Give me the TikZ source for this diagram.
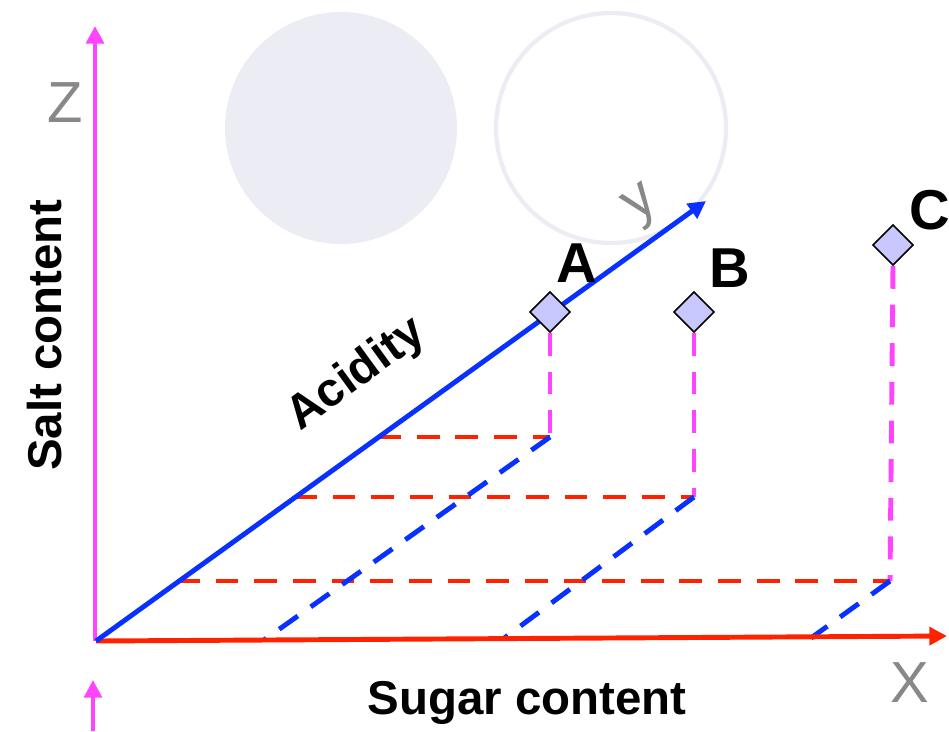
\documentclass[tikz,border=0pt]{standalone}
\usepackage{fontspec}
\setmainfont{Liberation Sans}
\usetikzlibrary{arrows.meta,positioning,shapes.geometric}
\definecolor{fuchsia}{RGB}{255,68,255}
\definecolor{scarlet}{RGB}{255,34,0}
\definecolor{royal}{RGB}{8,48,255}
\definecolor{mist}{RGB}{236,236,244}
\definecolor{slate}{RGB}{136,136,136}
\definecolor{lilac}{RGB}{200,200,255}
\tikzset{
  >={Triangle[length=10pt,width=10pt]},
  axis/.style={->,line width=2.8pt,draw=#1},
  guide/.style={line width=2.8pt,draw=#1,dash pattern=on 13pt off 9pt},
  sample/.style={diamond,draw=black,fill=lilac,line width=0.8pt,
    minimum size=23pt,inner sep=0pt},
  letter/.style={text=slate,font=\fontsize{33}{33}\selectfont},
  tag/.style={font=\fontsize{#1}{#1}\selectfont\bfseries},
  tag/.default=27,
}

\begin{document}
\begin{tikzpicture}[x=0.02cm,y=-0.02cm]
  \useasboundingbox (0,0) rectangle (949,731);
  % discs
  \fill[mist] (341,128) circle (2.32cm);
  \draw[mist,line width=2.4pt] (611,128) circle (2.3cm);

  \coordinate (O) at (96,641);
  \coordinate (xtip) at (947,636);
  \coordinate (ytip) at (706,201);
  \coordinate (ztip) at (95,26);
  \coordinate (zlow) at (93,731);
  \coordinate (zmark) at (93,680);

  \node[sample] (A) at (550,312) {};
  \node[sample] (B) at (694,312) {};
  \node[sample] (C) at (893,245) {};

  \coordinate (fA) at (550,437);
  \coordinate (fB) at (694,497);
  \coordinate (fC) at (890,581);
  \coordinate (yA) at (378,437);
  \coordinate (yB) at (294,497);
  \coordinate (yC) at (177,581);
  \coordinate (xA) at (264,640);
  \coordinate (xB) at (503,639);
  \coordinate (xC) at (811,638);

  % projections
  \draw[guide=fuchsia] (A.south) -- (fA);
  \draw[guide=fuchsia] (B.south) -- (fB);
  \draw[guide=fuchsia] (C.south) -- (fC);
  \draw[guide=scarlet] (yA) -- (fA);
  \draw[guide=scarlet] (yB) -- (fB);
  \draw[guide=scarlet] (yC) -- (fC);
  \draw[guide=royal] (fA) -- (xA);
  \draw[guide=royal] (fB) -- (xB);
  \draw[guide=royal] (fC) -- (xC);

  % axes
  \draw[axis=fuchsia] (95,641) -- (ztip);
  \draw[axis=fuchsia,line width=2.2pt] (zlow) -- (zmark);
  \draw[axis=scarlet] (O) -- (xtip);
  \draw[axis=royal] (O) -- (ytip);

  \node[sample] at (A) {};
  \node[sample] at (B) {};
  \node[sample] at (C) {};

  \node[letter] (zlab) at (65,103) {Z};
  \node[letter] (xlab) at (910,683) {X};
  \node[letter,rotate=36] (ylab) at (643,206) {y};

  \node[tag,rotate=90] (salt) at (45,335) {Salt content};
  \node[tag] (sugar) at (527,703) {Sugar content};
  \node[tag,rotate=36] (acid) at (357,375) {Acidity};
  \node[tag=32] (lA) at (577,263) {A};
  \node[tag=32] (lB) at (730,268) {B};
  \node[tag=32] (lC) at (930,210) {C};
\end{tikzpicture}
\end{document}
